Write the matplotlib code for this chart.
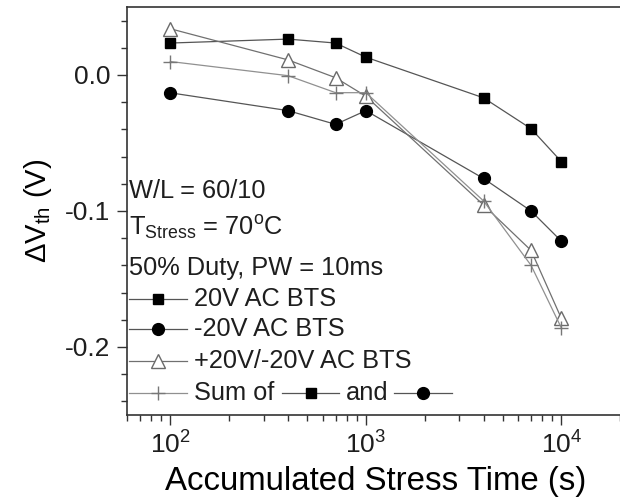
import matplotlib
matplotlib.use("Agg")
import matplotlib.pyplot as plt
from matplotlib.lines import Line2D
import numpy as np

plt.rcParams['font.family'] = ['Liberation Sans', 'DejaVu Sans']
plt.rcParams['mathtext.fontset'] = 'custom'
plt.rcParams['mathtext.rm'] = 'Liberation Sans'
plt.rcParams['mathtext.it'] = 'Liberation Sans:italic'
plt.rcParams['mathtext.bf'] = 'Liberation Sans:bold'
plt.rcParams['axes.unicode_minus'] = False
plt.rcParams['text.color'] = '#1e1e1e'
plt.rcParams['xtick.labelcolor'] = '#1e1e1e'
plt.rcParams['ytick.labelcolor'] = '#1e1e1e'

# ---- data ----
time_s = [100, 400, 700, 1000, 4000, 7000, 10000]
dv_pos20 = [0.0235, 0.0264, 0.0235, 0.0131, -0.0168, -0.0395, -0.0637]
dv_neg20 = [-0.0131, -0.0262, -0.0363, -0.0262, -0.0761, -0.1000, -0.1222]
dv_bipolar = [0.0340, 0.0111, -0.0020, -0.0156, -0.0956, -0.1290, -0.1790]
dv_sum = [0.0099, -0.0005, -0.0130, -0.0130, -0.0926, -0.1400, -0.1860]

labels = ["20V AC BTS", "-20V AC BTS", "+20V/-20V AC BTS", "Sum of"]
notes = ["W/L = 60/10",
         r"T$_{\mathregular{Stress}}$ = 70$^{\mathregular{o}}$C",
         "50% Duty, PW = 10ms"]
xticks = [100, 1000, 10000]
yticks = [0.0, -0.1, -0.2]

W, H = 620, 499
fig = plt.figure(figsize=(W / 100, H / 100), dpi=100)
left_px, top_px, bot_px = 127, 7, 415
xmin, xmax = 60, 2.1e4
decade_px = 195.5
width_px = (np.log10(xmax) - np.log10(xmin)) * decade_px
ax = fig.add_axes([left_px / W, 1 - bot_px / H, width_px / W, (bot_px - top_px) / H])

dark = '#555555'
sq_style = dict(color=dark, lw=0.9, marker='s', ms=7.5, mfc='black', mec='black')
ci_style = dict(color=dark, lw=0.9, marker='o', ms=8.5, mfc='black', mec='black')
tr_style = dict(color='#707070', lw=0.9, marker='^', ms=9.5, mfc='white', mec='#6a6a6a', mew=1.0)
pl_style = dict(color='#909090', lw=0.9, marker='+', ms=9.5, mec='#777777', mew=1.0)

ax.plot(time_s, dv_pos20, **sq_style)
ax.plot(time_s, dv_neg20, **ci_style)
ax.plot(time_s, dv_bipolar, **tr_style)
ax.plot(time_s, dv_sum, **pl_style)

ax.set_xscale('log')
ax.set_xlim(xmin, xmax)
ax.set_ylim(-0.25, 0.05)
ax.set_yticks(yticks)
ax.set_yticklabels([f"{v:.1f}" for v in yticks])
ax.set_yticks(np.arange(-0.24, 0.05, 0.02), minor=True)
ax.set_xticks(xticks)

for s in ax.spines.values():
    s.set_color('#333333')
    s.set_linewidth(1.2)
ax.spines['right'].set_visible(False)
ax.tick_params(which='major', direction='out', length=7, width=1.0, color='#333333',
               labelsize=19, pad=5)
ax.tick_params(which='minor', direction='out', length=4, width=1.0, color='#333333')

ax.set_xlabel("Accumulated Stress Time (s)", fontsize=23.8, labelpad=5)
ax.set_ylabel(r"$\Delta$V$_{\mathregular{th}}$ (V)", fontsize=21, labelpad=8)

# notes
note_y = [191, 228, 268]
for t, yp in zip(notes, note_y):
    fig.text(129 / W, 1 - yp / H, t, fontsize=18.3, va='center', ha='left')

# manual legend
styles = [sq_style, ci_style, tr_style, pl_style]
row_y = [299, 329, 361, 393]


def handle(x0, x1, yp, st):
    st = dict(st)
    xs = [x0 / W, x1 / W]
    ys = [1 - yp / H] * 2
    fig.add_artist(Line2D(xs, ys, color=st.pop('color'), lw=st.pop('lw'),
                          transform=fig.transFigure))
    fig.add_artist(Line2D([(x0 + x1) / 2 / W], [1 - yp / H], linestyle='none',
                          transform=fig.transFigure, **st))


for st, lab, yp in zip(styles, labels, row_y):
    handle(129, 187, yp, st)
    fig.text(194 / W, 1 - yp / H, lab, fontsize=18.3, va='center', ha='left')

handle(282, 339, row_y[3], sq_style)
fig.text(346 / W, 1 - row_y[3] / H, "and", fontsize=18.3, va='center', ha='left')
handle(394, 452, row_y[3], ci_style)

fig.savefig("out.png", dpi=100)
